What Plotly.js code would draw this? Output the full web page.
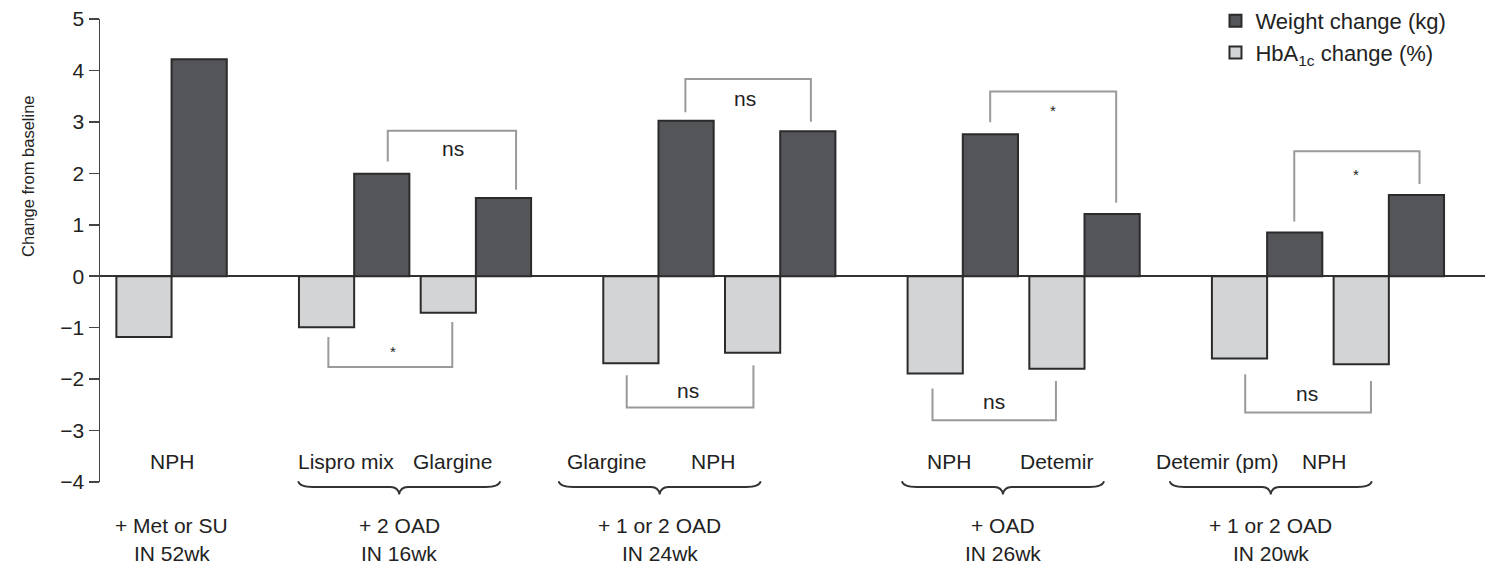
<!DOCTYPE html>
<html>
<head>
<meta charset="utf-8">
<script src="https://cdn.plot.ly/plotly-3.0.1.min.js"></script>
<style>
  html, body { margin: 0; padding: 0; background: #fff; }
  #chart { width: 1485px; height: 567px; }
</style>
</head>
<body>
<div id="chart"></div>
<script>
// ---- data -------------------------------------------------------------
// Each study: added regimen and duration
const studyRegimen  = ["+ Met or SU", "+ 2 OAD", "+ 1 or 2 OAD", "+ OAD", "+ 1 or 2 OAD"];
const studyDuration = ["IN 52wk", "IN 16wk", "IN 24wk", "IN 26wk", "IN 20wk"];

// Each insulin arm and the study it belongs to
const armStudy   = [0, 1, 1, 2, 2, 3, 3, 4, 4];
const armInsulin = ["NPH", "Lispro mix", "Glargine", "Glargine", "NPH", "NPH", "Detemir", "Detemir (pm)", "NPH"];

// Change from baseline per arm
const hba1cChange  = [-1.18, -0.99, -0.71, -1.69, -1.49, -1.89, -1.80, -1.60, -1.71]; // %
const weightChange = [ 4.22,  1.99,  1.52,  3.02,  2.82,  2.76,  1.21,  0.85,  1.58]; // kg

// Between-arm comparisons: [study, measure, label]
const comparisons = [
  [1, "weight", "ns"], [1, "hba1c", "*"],
  [2, "weight", "ns"], [2, "hba1c", "ns"],
  [3, "weight", "*"],  [3, "hba1c", "ns"],
  [4, "weight", "*"],  [4, "hba1c", "ns"]
];

// ---- layout helpers ----------------------------------------------------
// arms of one study sit 1 unit apart, studies are separated by 1.5 units
const armPos = [];
armStudy.forEach((s, i) => {
  if (i === 0) armPos.push(0);
  else armPos.push(armPos[i - 1] + (s === armStudy[i - 1] ? 1 : 1.5));
});

// label/brace centre of each study (x units) and arm label spread
const studyLabelX = [0.0, 1.87, 4.01, 6.83, 9.03];
const armLabelSpread = 0.44;
const braceHalf = 0.83;

// bracket geometry per comparison: [xLeft, xRight, yBar, yLeftEnd, yRightEnd, xText, yText]
const bracketGeom = [
  [1.776, 2.830,  2.830,  2.228,  1.679, 2.312,  2.48],
  [1.288, 2.306, -1.764, -1.182, -0.891, 1.819, -1.47],
  [4.221, 5.252,  3.833,  3.185,  3.005, 4.712,  3.46],
  [3.739, 4.780, -2.552, -1.925, -1.731, 4.246, -2.22],
  [6.725, 7.760,  3.593,  2.991,  1.427, 7.237,  3.22],
  [6.251, 7.265, -2.799, -2.184, -2.036, 6.760, -2.44],
  [9.223, 10.252, 2.428,  1.064,  1.795, 9.730,  1.98],
  [8.820, 9.853, -2.649, -1.906, -2.036, 9.327, -2.28]
];

const FONT = '"Liberation Sans", Arial, Helvetica, sans-serif';
const TXT = '#222222';
const EDGE = '#2b2b2b';
const BRACKET = '#9a9a9a';

// ---- traces -----------------------------------------------------------
const traces = [
  {
    type: 'bar', name: 'HbA<sub>1c</sub> change (%)',
    x: armPos, y: hba1cChange,
    marker: { color: '#d3d4d6', line: { color: EDGE, width: 2 } },
    hoverinfo: 'skip'
  },
  {
    type: 'bar', name: 'Weight change (kg)',
    x: armPos, y: weightChange,
    marker: { color: '#545559', line: { color: EDGE, width: 2 } },
    hoverinfo: 'skip'
  }
];

// ---- shapes & annotations --------------------------------------------
const shapes = [];
const annotations = [];

// significance brackets
comparisons.forEach((c, i) => {
  const g = bracketGeom[i];
  shapes.push({
    type: 'path', xref: 'x', yref: 'y',
    path: `M ${g[0]},${g[3]} L ${g[0]},${g[2]} L ${g[1]},${g[2]} L ${g[1]},${g[4]}`,
    line: { color: BRACKET, width: 2 }
  });
  annotations.push({
    xref: 'x', yref: 'y', x: g[5], y: g[6], text: c[2], showarrow: false,
    font: { family: FONT, size: c[2] === '*' ? 15 : 21, color: TXT },
    xanchor: 'center', yanchor: 'middle'
  });
});

// arm labels
armInsulin.forEach((name, i) => {
  const s = armStudy[i];
  const armsInStudy = armStudy.filter(v => v === s).length;
  const first = armStudy.indexOf(s) === i;
  let x = studyLabelX[s];
  if (armsInStudy > 1) x += first ? -armLabelSpread : armLabelSpread;
  annotations.push({
    xref: 'x', yref: 'y', x: x, y: -3.6, text: name, showarrow: false,
    font: { family: FONT, size: 21, color: TXT }, xanchor: 'center', yanchor: 'middle'
  });
});

// study descriptions and braces
studyRegimen.forEach((reg, s) => {
  const cx = studyLabelX[s];
  annotations.push({
    xref: 'x', yref: 'paper', x: cx, y: -0.0934, text: reg, showarrow: false,
    font: { family: FONT, size: 21, color: TXT }, xanchor: 'center', yanchor: 'middle'
  });
  annotations.push({
    xref: 'x', yref: 'paper', x: cx, y: -0.1538, text: studyDuration[s], showarrow: false,
    font: { family: FONT, size: 21, color: TXT }, xanchor: 'center', yanchor: 'middle'
  });
  const armsInStudy = armStudy.filter(v => v === s).length;
  if (armsInStudy > 1) {
    const yEnd = 0.0015, yMid = -0.0108, yTip = -0.0265;
    const l = cx - braceHalf, r = cx + braceHalf;
    shapes.push({
      type: 'path', xref: 'x', yref: 'paper',
      path: `M ${l},${yEnd} Q ${l + 0.01},${yMid} ${l + 0.12},${yMid} L ${cx - 0.07},${yMid} ` +
            `Q ${cx - 0.01},${yMid} ${cx},${yTip} Q ${cx + 0.01},${yMid} ${cx + 0.07},${yMid} ` +
            `L ${r - 0.12},${yMid} Q ${r - 0.01},${yMid} ${r},${yEnd}`,
      line: { color: '#333333', width: 1.8 }
    });
  }
});

// y-axis title
annotations.push({
  xref: 'paper', yref: 'y', x: -0.052, y: 1.95, text: 'Change from baseline',
  textangle: -90, showarrow: false,
  font: { family: FONT, size: 16.5, color: TXT }, xanchor: 'center', yanchor: 'middle'
});

const layout = {
  width: 1485, height: 567,
  margin: { l: 100, r: 0, t: 18, b: 85.3, pad: 0 },
  paper_bgcolor: '#ffffff', plot_bgcolor: '#ffffff',
  font: { family: FONT, color: TXT },
  barmode: 'group', bargap: 0.093, bargroupgap: 0,
  showlegend: true,
  legend: {
    x: 0.8054, xanchor: 'left', y: 1.041, yanchor: 'top',
    traceorder: 'reversed', bgcolor: 'rgba(0,0,0,0)',
    font: { family: FONT, size: 22, color: TXT }
  },
  xaxis: {
    range: [-0.588, 10.79], showgrid: false, zeroline: false,
    showline: false, showticklabels: false, ticks: ''
  },
  yaxis: {
    range: [-4, 5], tickmode: 'array', tickvals: [-4, -3, -2, -1, 0, 1, 2, 3, 4, 5],
    showgrid: false, showline: true, linecolor: '#444444', linewidth: 1.5,
    ticks: 'outside', ticklen: 10, tickwidth: 1.5, tickcolor: '#444444',
    zeroline: true, zerolinecolor: '#333333', zerolinewidth: 1.5,
    tickfont: { family: FONT, size: 21, color: TXT }
  },
  shapes: shapes,
  annotations: annotations
};

Plotly.newPlot('chart', traces, layout, { displayModeBar: false, staticPlot: true });
</script>
</body>
</html>
